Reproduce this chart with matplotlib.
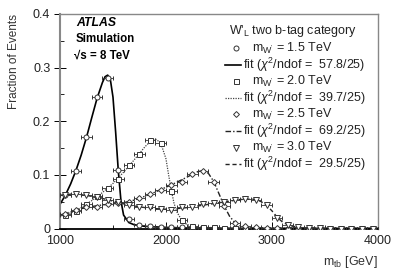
import matplotlib
matplotlib.use("Agg")
import matplotlib.pyplot as plt
from matplotlib.lines import Line2D
from matplotlib.ticker import MultipleLocator

plt.rcParams['font.family'] = ['Liberation Sans', 'DejaVu Sans']
plt.rcParams['mathtext.fontset'] = 'custom'
plt.rcParams['mathtext.rm'] = 'Liberation Sans'
plt.rcParams['mathtext.it'] = 'Liberation Sans:italic'
plt.rcParams['mathtext.bf'] = 'Liberation Sans:bold'

# bin centres [GeV]
mass = [1050, 1150, 1250, 1350, 1450, 1550, 1650, 1750, 1850, 1950,
        2050, 2150, 2250, 2350, 2450, 2550, 2650, 2750, 2850, 2950,
        3050, 3150, 3250, 3350, 3450, 3550, 3650, 3750, 3850, 3950]

frac_15 = [0.062, 0.108, 0.171, 0.245, 0.280, 0.110, 0.017, 0.006, 0.004, 0.003,
           0.002, 0.002, 0.001, 0.001, 0.001, 0.0, 0.0, 0.0, 0.0, 0.0,
           0.0, 0.0, 0.0, 0.0, 0.0, 0.0, 0.0, 0.0, 0.0, 0.0]
frac_20 = [0.025, 0.033, 0.046, 0.060, 0.076, 0.093, 0.118, 0.138, 0.165, 0.160,
           0.070, 0.016, 0.005, 0.003, 0.002, 0.001, 0.001, 0.001, 0.0, 0.0,
           0.0, 0.0, 0.0, 0.0, 0.0, 0.0, 0.0, 0.0, 0.0, 0.0]
frac_25 = [0.027, 0.034, 0.040, 0.040, 0.046, 0.047, 0.049, 0.057, 0.064, 0.071,
           0.081, 0.086, 0.101, 0.108, 0.087, 0.042, 0.010, 0.004, 0.002, 0.001,
           0.001, 0.0, 0.0, 0.0, 0.0, 0.0, 0.0, 0.0, 0.0, 0.0]
frac_30 = [0.063, 0.064, 0.062, 0.059, 0.054, 0.049, 0.044, 0.041, 0.040, 0.036,
           0.035, 0.041, 0.040, 0.045, 0.047, 0.049, 0.053, 0.055, 0.054, 0.043,
           0.019, 0.007, 0.002, 0.001, 0.001, 0.0, 0.0, 0.0, 0.0, 0.0]

# fitted curves
fit15_x = [1000, 1050, 1100, 1150, 1200, 1250, 1300, 1350, 1400, 1425, 1450, 1475,
           1500, 1525, 1550, 1575, 1600, 1650, 1700, 1800, 1900, 2000, 2200, 2500, 2800, 4000]
fit15_y = [0.045, 0.062, 0.083, 0.108, 0.137, 0.170, 0.207, 0.243, 0.272, 0.283, 0.286, 0.278,
           0.245, 0.180, 0.108, 0.052, 0.025, 0.011, 0.007, 0.004, 0.003, 0.002, 0.001, 0.0005, 0.0002, 0.0]
fit20_x = [1000, 1100, 1200, 1300, 1400, 1500, 1600, 1700, 1800, 1850, 1900, 1950,
           2000, 2025, 2050, 2075, 2100, 2150, 2200, 2300, 2500, 3000, 4000]
fit20_y = [0.022, 0.029, 0.039, 0.052, 0.067, 0.084, 0.105, 0.128, 0.152, 0.162, 0.167, 0.160,
           0.130, 0.100, 0.072, 0.048, 0.032, 0.015, 0.007, 0.003, 0.001, 0.0003, 0.0]
fit25_x = [1000, 1100, 1200, 1300, 1400, 1500, 1600, 1700, 1800, 1900, 2000, 2100, 2200,
           2250, 2300, 2350, 2400, 2450, 2500, 2550, 2600, 2650, 2700, 2800, 3000, 4000]
fit25_y = [0.025, 0.031, 0.037, 0.041, 0.044, 0.046, 0.048, 0.053, 0.060, 0.068, 0.077, 0.086, 0.096,
           0.101, 0.106, 0.108, 0.103, 0.088, 0.065, 0.042, 0.023, 0.011, 0.005, 0.002, 0.0005, 0.0]
fit30_x = [1000, 1100, 1200, 1300, 1400, 1500, 1600, 1700, 1800, 1900, 2000, 2100, 2200,
           2300, 2400, 2500, 2600, 2700, 2800, 2850, 2900, 2950, 3000, 3050, 3100, 3150,
           3200, 3300, 3500, 4000]
fit30_y = [0.062, 0.064, 0.063, 0.060, 0.056, 0.051, 0.046, 0.042, 0.039, 0.037, 0.036, 0.037, 0.039,
           0.042, 0.045, 0.048, 0.051, 0.054, 0.055, 0.054, 0.050, 0.043, 0.033, 0.021, 0.012, 0.007,
           0.004, 0.001, 0.0002, 0.0]

labels_mass = ["1.5", "2.0", "2.5", "3.0"]
labels_chi2 = ["57.8", "39.7", "69.2", "29.5"]

fig = plt.figure(figsize=(3.99, 2.70), dpi=100)
ax = fig.add_axes([0.1504, 0.1537, 0.7966, 0.7945])

series = [frac_15, frac_20, frac_25, frac_30]
fits = [(fit15_x, fit15_y), (fit20_x, fit20_y), (fit25_x, fit25_y), (fit30_x, fit30_y)]
markers = ['o', 's', 'D', 'v']
msizes = [3.6, 3.6, 3.0, 3.8]
styles = [dict(ls='-', lw=1.2, color='black'),
          dict(ls=(0, (1, 1)), lw=0.9, color='#444444'),
          dict(ls=(0, (4, 1.5, 1, 1.5)), lw=1.0, color='#222222'),
          dict(ls=(0, (3, 2)), lw=1.0, color='#222222')]
mcol = '#333333'
tcol = '#222222'
fs_leg = 9

# legend geometry (axes fraction)
leg_top = 0.919
leg_step = 0.0775
x_line0, x_line1, x_mark = 0.519, 0.569, 0.553
x_txt_fit, x_txt_m = 0.577, 0.604

ax.text(0.531, leg_top, r"W'$_{\mathregular{L}}$ two b-tag category", transform=ax.transAxes,
        fontsize=fs_leg, va='center', ha='left', color=tcol)

row = 1
for ys, (fx, fy), mk, ms, st, lm, lc in zip(series, fits, markers, msizes, styles,
                                             labels_mass, labels_chi2):
    ax.plot(fx, fy, zorder=2, **st)
    ax.errorbar(mass, ys, xerr=50, fmt=mk, ms=ms, mfc='white', mec=mcol, mew=0.7,
                ecolor=mcol, elinewidth=0.6, capsize=1.2, capthick=0.6, zorder=3)
    yr = leg_top - row * leg_step
    ax.add_line(Line2D([x_mark], [yr], marker=mk, ls='none', ms=ms, mfc='white', mec=mcol,
                       mew=0.7, transform=ax.transAxes))
    ax.text(x_txt_m, yr, r"m$_{\mathregular{W'}}$ = " + lm + " TeV", transform=ax.transAxes,
            fontsize=fs_leg, va='center', ha='left', color=tcol)
    row += 1
    yr = leg_top - row * leg_step
    ax.add_line(Line2D([x_line0, x_line1], [yr, yr], transform=ax.transAxes, **st))
    ax.text(x_txt_fit, yr, r"fit ($\chi^{\mathregular{2}}$/ndof =  " + lc + "/25)",
            transform=ax.transAxes, fontsize=fs_leg, va='center', ha='left', color=tcol)
    row += 1

ax.set_xlim(1000, 4000)
ax.set_ylim(0, 0.4)
ax.xaxis.set_major_locator(MultipleLocator(1000))
ax.xaxis.set_minor_locator(MultipleLocator(500))
ax.yaxis.set_minor_locator(MultipleLocator(0.05))
ax.set_yticks([0, 0.1, 0.2, 0.3, 0.4])
ax.set_yticklabels(["0", "0.1", "0.2", "0.3", "0.4"])
ax.tick_params(axis='both', which='major', labelsize=9, direction='in', length=5, width=0.7,
               labelcolor=tcol)
ax.tick_params(axis='both', which='minor', direction='in', length=3, width=0.6)
ax.tick_params(axis='y', which='major', direction='inout', length=8, pad=3)
ax.tick_params(axis='x', which='major', pad=4.5)

for s in ['top', 'right']:
    ax.spines[s].set_color('#888888')
    ax.spines[s].set_linewidth(1.0)
ax.spines['left'].set_color('#888888')
ax.spines['left'].set_linewidth(1.5)
ax.spines['bottom'].set_color('black')
ax.spines['bottom'].set_linewidth(1.3)

ax.set_ylabel("Fraction of Events", fontsize=8.5, loc='top', labelpad=9, color='#333333')
ax.set_xlabel(r"m$_{\mathregular{tb}}$ [GeV]", fontsize=9, loc='right', labelpad=5, color='#333333')

ax.text(0.05, 0.985, "ATLAS", transform=ax.transAxes, fontsize=8.8, fontweight='bold',
        fontstyle='italic', va='top')
ax.text(0.05, 0.91, "Simulation", transform=ax.transAxes, fontsize=8.3, fontweight='bold', va='top')
ax.text(0.045, 0.835, "\u221As = 8 TeV", transform=ax.transAxes, fontsize=8.3, fontweight='bold', va='top')

fig.savefig("out.png", dpi=100)
